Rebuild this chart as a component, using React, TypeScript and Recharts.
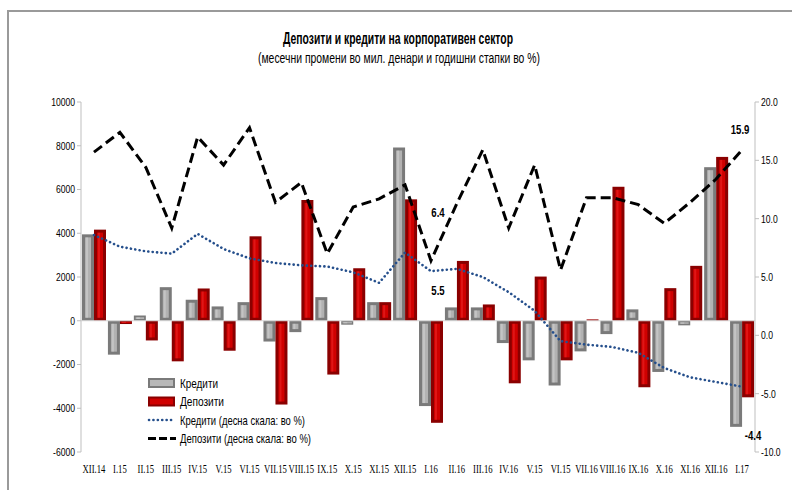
import React from "react";
import {
  ComposedChart,
  Bar,
  Line,
  XAxis,
  YAxis,
  ReferenceLine,
} from "recharts";

// месеци (ознаките се преземени како на оригиналот)
const months = [
  "XII.14", "I.15", "II.15", "III.15", "IV.15", "V.15", "VI.15", "VII.15",
  "VIII.15", "IX.15", "X.15", "XI.15", "XII.15", "I.16", "II.16", "III.16",
  "IV.16", "V.15", "VI.15", "VII.16", "VIII.16", "IX.16", "X.16", "XI.16",
  "XII.16", "I.17",
];

// месечни промени, мил. денари
const krediti = [
  3950, -1550, 240, 1535, 960, 655, 850, -950, -520, 1080, -180, 850, 7920,
  -3900, 610, 610, -1020, -1810, -2960, -1400, -610, 520, -2340, -210, 7020,
  -4850,
];
const depoziti = [
  4165, -150, -900, -1855, 1475, -1370, 3860, -3830, 5520, -2460, 2400, 850,
  5550, -4665, 2735, 745, -2860, 2020, -1810, 60, 6125, -3040, 1490, 2510,
  7490, -3500,
];

// годишни стапки, %
const kreditiGodisno = [
  8.6, 7.6, 7.2, 7.0, 8.7, 7.4, 6.6, 6.2, 6.0, 5.9, 5.4, 4.5, 7.1, 5.5, 5.7,
  5.0, 3.7, 2.1, -0.5, -0.8, -1.0, -1.5, -2.8, -3.6, -4.0, -4.4,
];
const depozitiGodisno = [
  15.7, 17.4, 14.4, 9.2, 17.0, 14.6, 17.8, 11.4, 13.1, 7.0, 11.0, 11.7, 12.9,
  6.4, 11.3, 15.9, 9.2, 14.6, 5.6, 11.8, 11.8, 11.2, 9.6, 11.4, 13.4, 15.9,
];

const leftTicks = [-6000, -4000, -2000, 0, 2000, 4000, 6000, 8000, 10000];
const rightTicks = [-10, -5, 0, 5, 10, 15, 20];

const data = months.map((m, i) => ({
  month: m,
  krediti: krediti[i],
  depoziti: depoziti[i],
  kreditiG: kreditiGodisno[i],
  depozitiG: depozitiGodisno[i],
}));

const sans = "'Liberation Sans', Arial, sans-serif";
const serif = "'Liberation Serif', 'Times New Roman', serif";

const makeBevel = (base: string, edge: string, light: string) => (props: any) => {
  const { x, y, width, height } = props;
  if (!width || !height) return <g />;
  const top = height < 0 ? y + height : y;
  const h = Math.abs(height);
  const inset = Math.min(3, width / 4, h / 3);
  return (
    <g>
      <rect x={x} y={top} width={width} height={h} fill={edge} />
      <rect
        x={x + inset}
        y={top + inset}
        width={width - inset * 2}
        height={Math.max(0, h - inset * 2)}
        fill={base}
      />
      <rect
        x={x + inset + 1}
        y={top + inset}
        width={Math.max(0, width / 2 - inset - 1)}
        height={Math.max(0, h - inset * 2)}
        fill={light}
        opacity={0.35}
      />
    </g>
  );
};

const GrayBar = makeBevel("#b2b2b2", "#7a7a7a", "#e6e6e6");
const RedBar = makeBevel("#d00000", "#8a0000", "#ff4040");

// збиени ознаки (оригиналот користи тесен фонт)
const LeftTick = (p: any) => (
  <g transform={`translate(${p.x},${p.y}) scale(0.78,1)`}>
    <text x={0} y={0} dy="0.35em" textAnchor="end" fontFamily={sans} fontSize={11} fill="#000">
      {p.payload.value}
    </text>
  </g>
);

const RightTick = (p: any) => (
  <g transform={`translate(${p.x},${p.y}) scale(0.78,1)`}>
    <text x={0} y={0} dy="0.35em" textAnchor="start" fontFamily={sans} fontSize={11} fill="#000">
      {Number(p.payload.value).toFixed(1)}
    </text>
  </g>
);

const MonthTick = (p: any) => (
  <g transform={`translate(${p.x},${p.y}) scale(0.72,1)`}>
    <text x={0} y={0} dy="0.71em" textAnchor="middle" fontFamily={serif} fontSize={12} fill="#000">
      {p.payload.value}
    </text>
  </g>
);

const valueText = (x: number, y: number, t: string) => (
  <g transform={`translate(${x},${y}) scale(0.8,1)`}>
    <text x={0} y={0} textAnchor="middle" fontSize={12} fontWeight="bold" fontFamily={sans} fill="#000">
      {t}
    </text>
  </g>
);

const depLabel = (p: any) => {
  const { x, y, index } = p;
  if (index === 13) return valueText(x + 7, y - 44, "6.4");
  if (index === 25) return valueText(x - 2, y - 16, "15.9");
  return <g />;
};

const kredLabel = (p: any) => {
  const { x, y, index } = p;
  if (index === 13) return valueText(x + 7, y + 24, "5.5");
  if (index === 25) return valueText(x + 11, y + 53, "-4.4");
  return <g />;
};

const legendRows = [
  { name: "Кредити", kind: "gray", w: 38 },
  { name: "Депозити", kind: "red", w: 44 },
  { name: "Кредити (десна скала: во %)", kind: "dot", w: 125 },
  { name: "Депозити (десна скала: во %)", kind: "dash", w: 131 },
];

const Overlay = () => (
  <svg width={792} height={490} style={{ position: "absolute", left: 0, top: 0, pointerEvents: "none" }}>
    <text
      x={398}
      y={44}
      textAnchor="middle"
      fontFamily={sans}
      fontWeight="bold"
      fontSize={17}
      textLength={230}
      lengthAdjust="spacingAndGlyphs"
      fill="#000"
    >
      Депозити и кредити на корпоративен сектор
    </text>
    <text
      x={399}
      y={63}
      textAnchor="middle"
      fontFamily={sans}
      fontSize={15.5}
      textLength={282}
      lengthAdjust="spacingAndGlyphs"
      fill="#000"
    >
      (месечни промени во мил. денари и годишни стапки во %)
    </text>
    {legendRows.map((r, i) => {
      const cy = 383 + i * 18.5;
      return (
        <g key={r.name}>
          {r.kind === "gray" && (
            <g>
              <rect x={148} y={cy - 5} width={27} height={10} fill="#7a7a7a" />
              <rect x={150} y={cy - 3} width={23} height={6} fill="#b8b8b8" />
            </g>
          )}
          {r.kind === "red" && (
            <g>
              <rect x={148} y={cy - 5} width={27} height={10} fill="#8a0000" />
              <rect x={150} y={cy - 3} width={23} height={6} fill="#d00000" />
            </g>
          )}
          {r.kind === "dot" && (
            <line x1={149} y1={cy} x2={175} y2={cy} stroke="#254f8c" strokeWidth={2.6} strokeDasharray="0.1 4.3" strokeLinecap="round" />
          )}
          {r.kind === "dash" && (
            <line x1={148} y1={cy} x2={176} y2={cy} stroke="#000" strokeWidth={3} strokeDasharray="8 3" />
          )}
          <text
            x={180}
            y={cy + 4.5}
            fontFamily={sans}
            fontSize={13.5}
            textLength={r.w}
            lengthAdjust="spacingAndGlyphs"
            fill="#000"
          >
            {r.name}
          </text>
        </g>
      );
    })}
  </svg>
);

const App: React.FC = () => {
  return (
    <div style={{ position: "absolute", left: 0, top: 0, width: 792, height: 490, background: "#fff" }}>
      <div
        style={{
          position: "absolute",
          left: 7,
          top: 10,
          width: 785,
          height: 480,
          borderTop: "2px solid #9a9a9a",
          borderLeft: "2px solid #9a9a9a",
        }}
      />
      <ComposedChart
        width={792}
        height={490}
        data={data}
        margin={{ top: 102, right: 0, bottom: 8, left: 21 }}
        barCategoryGap={1}
        barGap={0}
        style={{ position: "absolute", left: 0, top: 0 }}
      >
        <XAxis
          dataKey="month"
          axisLine={false}
          tickLine={false}
          interval={0}
          height={30}
          tickMargin={6}
          tick={MonthTick}
        />
        <YAxis
          yAxisId="left"
          domain={[-6000, 10000]}
          ticks={leftTicks}
          interval={0}
          width={60}
          stroke="#bfbfbf"
          tickSize={4}
          tick={LeftTick}
        />
        <YAxis
          yAxisId="right"
          orientation="right"
          domain={[-10, 20]}
          ticks={rightTicks}
          interval={0}
          width={37}
          stroke="#bfbfbf"
          tickSize={4}
          tick={RightTick}
        />
        <ReferenceLine yAxisId="left" y={0} stroke="#d9d9d9" />
        <Bar
          yAxisId="left"
          dataKey="krediti"
          name="Кредити"
          fill="#b2b2b2"
          shape={GrayBar}
          isAnimationActive={false}
        />
        <Bar
          yAxisId="left"
          dataKey="depoziti"
          name="Депозити"
          fill="#d00000"
          shape={RedBar}
          isAnimationActive={false}
        />
        <Line
          yAxisId="right"
          type="linear"
          dataKey="kreditiG"
          name="Кредити (десна скала: во %)"
          stroke="#254f8c"
          strokeWidth={2.6}
          strokeDasharray="0.1 4.3"
          strokeLinecap="round"
          dot={false}
          label={kredLabel}
          isAnimationActive={false}
        />
        <Line
          yAxisId="right"
          type="linear"
          dataKey="depozitiG"
          name="Депозити (десна скала: во %)"
          stroke="#000"
          strokeWidth={3}
          strokeDasharray="10 5"
          dot={false}
          label={depLabel}
          isAnimationActive={false}
        />
      </ComposedChart>
      <Overlay />
    </div>
  );
};

export default App;
